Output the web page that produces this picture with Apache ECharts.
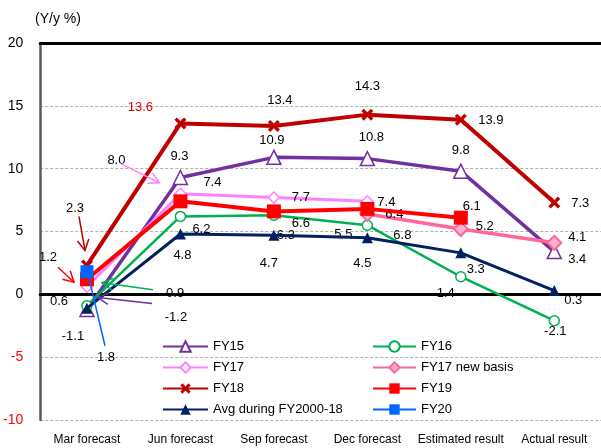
<!DOCTYPE html>
<html>
<head>
<meta charset="utf-8">
<script src="https://cdn.jsdelivr.net/npm/echarts@6/dist/echarts.min.js"></script>
<style>
  html, body { margin: 0; padding: 0; background: #fff; }
  #chart { width: 601px; height: 448px; }
</style>
</head>
<body>
<div id="chart"></div>
<script>
// Capital investment plans, year-on-year % change, by survey round
const categories = ['Mar forecast', 'Jun forecast', 'Sep forecast', 'Dec forecast', 'Estimated result', 'Actual result'];

const fy15    = [-1.2, 9.3, 10.9, 10.8, 9.8, 3.4];
const fy16    = [-0.9, 6.2, 6.3, 5.5, 1.4, -2.1];
const fy17    = [0.6, 8.0, 7.7, 7.4, null, null];
const fy17New = [null, null, null, 6.4, 5.2, 4.1];
const fy18    = [2.3, 13.6, 13.4, 14.3, 13.9, 7.3];
const fy19    = [1.2, 7.4, 6.6, 6.8, 6.1, null];
const avgFY   = [-1.1, 4.8, 4.7, 4.5, 3.3, 0.3];
const fy20    = [1.8, null, null, null, null, null];

const yMin = -10, yMax = 20, yStep = 5;

// label offsets (px) from each point, so the value labels sit clear of the lines
const offFY15    = [[89, 8], [-1, -21], [-2, -17], [4, -21], [0, -21], [23, 8]];
const offFY16    = [[86, -12], [21, 13], [12, 20], [-24, 9], [-15, 17], [1, 11]];
const offFY17    = [[-28, 15], [-64, -33], [27, 0], [19, 1], null, null];
const offFY17New = [null, null, null, [27, 1], [24, -3], [23, -5]];
const offFY18    = [[-12, -57], [-40, -16], [6, -26], [0, -28], [30, 1], [26, 1]];
const offFY19    = [[-39, -22], [32, -19], [27, 12], [35, 27], [11, -11], null];
const offAvg     = [[-14, 28], [2, 21], [-5, 28], [-5, 26], [15, 17], [19, 10]];
const offFY20    = [[19, 86], null, null, null, null, null];
const labelOffsets = [offFY15, offFY16, offFY17, offFY17New, offFY18, offFY19, offAvg, offFY20];

const FONT = "'Liberation Sans', Arial, sans-serif";

const crossPath = 'path://M2,0 L5,3 L8,0 L10,2 L7,5 L10,8 L8,10 L5,7 L2,10 L0,8 L3,5 L0,2 Z';

function points(values, labelColor) {
  return values.map(function (v, i) {
    if (v === null) return null;
    const item = { value: v };
    if (labelColor && labelColor[i]) item.label = { color: labelColor[i] };
    return item;
  });
}

const baseLabel = {
  show: true,
  position: 'inside',
  align: 'center',
  verticalAlign: 'middle',
  fontFamily: FONT,
  fontSize: 13,
  color: '#000',
  formatter: function (p) { return p.value.toFixed(1); }
};

function shiftLabel(params) {
  const o = (labelOffsets[params.seriesIndex] || [])[params.dataIndex] || [0, 0];
  return { dx: o[0], dy: o[1], hideOverlap: false };
}

function lineSeries(name, values, opts) {
  return Object.assign({
    name: name,
    type: 'line',
    xAxisIndex: 0,
    yAxisIndex: 0,
    data: points(values, opts.labelColors),
    connectNulls: false,
    label: baseLabel,
    labelLayout: shiftLabel,
    emphasis: { disabled: true },
    animation: false
  }, opts.series);
}

const series = [
  lineSeries('FY15', fy15, { series: {
    lineStyle: { color: '#7030A0', width: 3.5 },
    itemStyle: { color: '#fff', borderColor: '#7030A0', borderWidth: 1.5 },
    symbol: 'triangle', symbolSize: 14, z: 3 } }),
  lineSeries('FY16', fy16, { series: {
    lineStyle: { color: '#00B050', width: 2.5 },
    itemStyle: { color: '#fff', borderColor: '#00B050', borderWidth: 1.5 },
    symbol: 'circle', symbolSize: 10, z: 3 } }),
  lineSeries('FY17', fy17, { series: {
    lineStyle: { color: '#FF80FF', width: 3 },
    itemStyle: { color: '#fff', borderColor: '#FF80FF', borderWidth: 1.5 },
    symbol: 'diamond', symbolSize: 11, z: 3 } }),
  lineSeries('FY17 new basis', fy17New, { series: {
    lineStyle: { color: '#FF6699', width: 3.5 },
    itemStyle: { color: '#FFB3D1', borderColor: '#FF6699', borderWidth: 2 },
    symbol: 'diamond', symbolSize: 14, z: 3 } }),
  lineSeries('FY18', fy18, { labelColors: [null, '#E00000'], series: {
    lineStyle: { color: '#C00000', width: 4 },
    itemStyle: { color: '#C00000' },
    symbol: crossPath, symbolSize: 12, z: 4 } }),
  lineSeries('FY19', fy19, { series: {
    lineStyle: { color: '#FF0000', width: 4 },
    itemStyle: { color: '#FF0000' },
    symbol: 'rect', symbolSize: 14, z: 4 } }),
  lineSeries('Avg during FY2000-18', avgFY, { series: {
    lineStyle: { color: '#002060', width: 3 },
    itemStyle: { color: '#002060' },
    symbol: 'triangle', symbolSize: 11, z: 4 } }),
  lineSeries('FY20', fy20, { series: {
    lineStyle: { color: '#0066FF', width: 4 },
    itemStyle: { color: '#0066FF' },
    symbol: 'rect', symbolSize: 13, z: 5 } })
];

const legendText = { fontFamily: FONT, fontSize: 13, color: '#000' };

const chart = echarts.init(document.getElementById('chart'), null, { renderer: 'canvas' });

chart.setOption({
  animation: false,
  backgroundColor: '#fff',
  grid: { left: 40, top: 43, width: 564, height: 377, containLabel: false },
  legend: [
    {
      data: ['FY15', 'FY17', 'FY18', 'Avg during FY2000-18'],
      orient: 'vertical', left: 157, top: 335,
      itemWidth: 45, itemHeight: 13, itemGap: 8,
      textStyle: legendText, selectedMode: false
    },
    {
      data: ['FY16', 'FY17 new basis', 'FY19', 'FY20'],
      orient: 'vertical', left: 367, top: 335,
      itemWidth: 43, itemHeight: 13, itemGap: 8,
      textStyle: legendText, selectedMode: false
    }
  ],
  xAxis: [
    {
      type: 'category', data: categories, position: 'bottom',
      axisLine: { lineStyle: { color: '#000', width: 3 } },
      axisTick: { show: false },
      axisLabel: { fontFamily: FONT, fontSize: 12, color: '#000', margin: 14, interval: 0 },
      splitLine: { show: false }
    },
    {
      type: 'category', data: categories, position: 'top',
      axisLine: { lineStyle: { color: '#000', width: 3 } },
      axisTick: { show: false }, axisLabel: { show: false }, splitLine: { show: false }
    }
  ],
  yAxis: {
    type: 'value', min: yMin, max: yMax, interval: yStep,
    axisLine: { show: true, lineStyle: { color: '#595959', width: 2.5 } },
    axisTick: { show: false },
    axisLabel: {
      fontFamily: FONT, fontSize: 14, margin: 17,
      color: function (v) { return Number(v) < 0 ? '#FF0000' : '#000'; }
    },
    splitLine: { show: true, lineStyle: { color: '#B0B0B0', width: 1, type: [3, 2] } }
  },
  series: series
});

// pointer arrows from the crowded labels back to their points
const notes = [
  { s: 4, i: 0, from: [-8, -49], to: [-2, -15], color: '#C00000', head: true },
  { s: 5, i: 0, from: [-29, -12], to: [-13, 3], color: '#FF0000', head: true },
  { s: 1, i: 0, from: [66, -16], to: [15, -23], color: '#00B050', head: true },
  { s: 0, i: 0, from: [65, -6], to: [11, -12], color: '#7030A0', head: true },
  { s: 7, i: 0, from: [18, 74], to: [1, 2], color: '#0066FF', head: false },
  { s: 2, i: 1, from: [-59, -30], to: [-21, -11], color: '#FF80FF', head: true }
];
const seriesValues = [fy15, fy16, fy17, fy17New, fy18, fy19, avgFY, fy20];

const graphics = [];
notes.forEach(function (n) {
  const p = chart.convertToPixel({ xAxisIndex: 0, yAxisIndex: 0 }, [n.i, seriesValues[n.s][n.i]]);
  const x1 = p[0] + n.from[0], y1 = p[1] + n.from[1];
  const x2 = p[0] + n.to[0], y2 = p[1] + n.to[1];
  graphics.push({
    type: 'line', silent: true, z: 20,
    shape: { x1: x1, y1: y1, x2: x2, y2: y2 },
    style: { stroke: n.color, lineWidth: 1.5 }
  });
  if (n.head) {
    const ang = Math.atan2(y2 - y1, x2 - x1);
    const L = 12, spread = 0.5;
    graphics.push({
      type: 'polyline', silent: true, z: 20,
      shape: { points: [
        [x2 - L * Math.cos(ang - spread), y2 - L * Math.sin(ang - spread)],
        [x2, y2],
        [x2 - L * Math.cos(ang + spread), y2 - L * Math.sin(ang + spread)]
      ] },
      style: { stroke: n.color, lineWidth: 1.5, fill: null }
    });
  }
});
graphics.push({
  type: 'text', left: 35, top: 12, silent: true,
  style: { text: '(Y/y %)', fontFamily: FONT, fontSize: 14, fill: '#000' }
});
chart.setOption({ graphic: graphics });
</script>
</body>
</html>
